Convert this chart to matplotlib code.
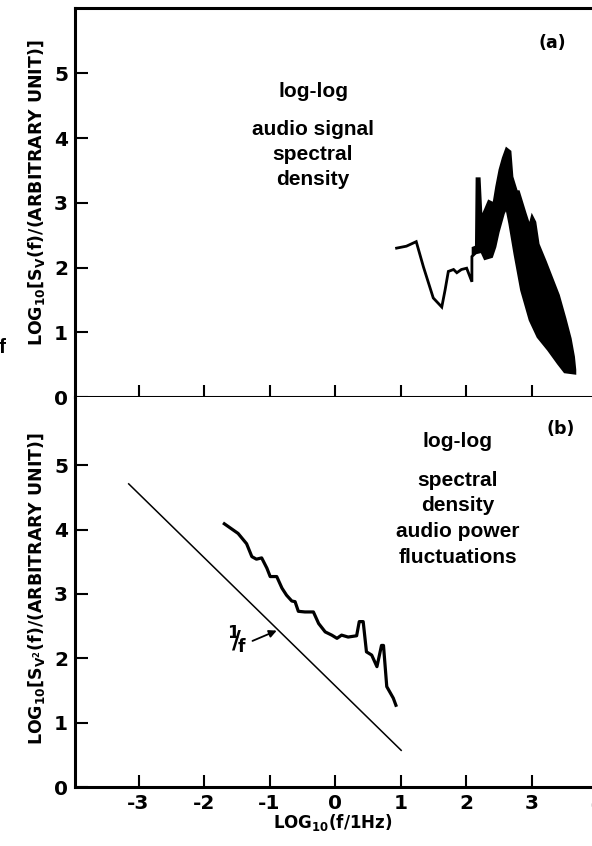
import numpy as np
import matplotlib
matplotlib.use("Agg")
import matplotlib.pyplot as plt

plt.rcParams['font.family'] = 'DejaVu Sans'
plt.rcParams['font.weight'] = 'bold'
plt.rcParams['mathtext.fontset'] = 'dejavusans'
plt.rcParams['mathtext.default'] = 'bf'

# panel (a): audio signal spectral density, thin part
a_x = [0.94, 1.09, 1.24, 1.35, 1.50, 1.63, 1.68, 1.73, 1.81, 1.86, 1.93, 2.01, 2.09, 2.09, 2.14]
a_y = [2.30, 2.33, 2.40, 2.01, 1.53, 1.39, 1.65, 1.94, 1.97, 1.92, 1.97, 1.99, 1.78, 2.17, 2.22]
# panel (a): dense oscillating part, upper and lower envelopes
a_up_x = [2.11, 2.16, 2.17, 2.20, 2.23, 2.30, 2.35, 2.39, 2.42, 2.47, 2.52, 2.57, 2.62, 2.67,
          2.70, 2.77, 2.80, 2.90, 2.97, 3.01, 3.05, 3.10, 3.21, 3.31, 3.41, 3.51, 3.59, 3.64, 3.66]
a_up_y = [2.30, 2.32, 3.37, 3.37, 2.74, 2.90, 3.02, 3.00, 2.94, 3.25, 3.51, 3.69, 3.83, 3.79,
          3.40, 3.17, 3.17, 2.84, 2.62, 2.78, 2.70, 2.36, 2.09, 1.83, 1.57, 1.21, 0.90, 0.62, 0.42]
a_lo_x = [2.11, 2.24, 2.29, 2.39, 2.44, 2.49, 2.57, 2.62, 2.67, 2.75, 2.85, 2.98, 3.10, 3.26,
          3.41, 3.51, 3.66]
a_lo_y = [2.22, 2.25, 2.14, 2.17, 2.32, 2.55, 2.84, 2.94, 2.68, 2.20, 1.65, 1.19, 0.93, 0.73,
          0.52, 0.39, 0.37]

# panel (b): spectral density of audio power fluctuations
b_x = [-1.69, -1.48, -1.35, -1.27, -1.20, -1.12, -1.04, -0.99, -0.89, -0.81, -0.74, -0.66,
       -0.61, -0.56, -0.46, -0.33, -0.25, -0.15, -0.05, 0.03, 0.10, 0.20, 0.33, 0.37, 0.43,
       0.48, 0.56, 0.64, 0.71, 0.74, 0.79, 0.89, 0.93]
b_y = [4.09, 3.94, 3.78, 3.58, 3.54, 3.56, 3.40, 3.27, 3.27, 3.09, 2.98, 2.89, 2.88, 2.73,
       2.72, 2.72, 2.54, 2.41, 2.36, 2.31, 2.36, 2.33, 2.35, 2.57, 2.57, 2.10, 2.05, 1.87,
       2.20, 2.20, 1.56, 1.38, 1.27]
# 1/f reference line
ref_x = [-3.15, 1.01]
ref_y = [4.71, 0.57]

xticks = [-3, -2, -1, 0, 1, 2, 3, 4]
yticks = [0, 1, 2, 3, 4, 5]

W, H = 592, 846
fig = plt.figure(figsize=(W / 100, H / 100), dpi=100)

left = 75 / W
right = 597 / W
ax1 = fig.add_axes([left, 1 - 397 / H, right - left, (397 - 8) / H])
ax2 = fig.add_axes([left, 1 - 787 / H, right - left, (787 - 397) / H])

for ax, ytop in ((ax1, 6.01), (ax2, 6.06)):
    ax.set_xlim(-3.97, 4.0)
    ax.set_ylim(0, ytop)
    ax.set_xticks(xticks)
    ax.set_yticks(yticks)
    ax.tick_params(direction='in', length=9, width=1.5, labelsize=14.5, pad=5,
                   top=False, right=False)
    ax.tick_params(axis='x', pad=5)
    ax.spines['right'].set_visible(False)
    for s in ('left', 'bottom', 'top'):
        ax.spines[s].set_linewidth(2.2)
ax2.spines['top'].set_visible(False)
ax1.tick_params(axis='x', labelbottom=False)
ax2.set_xticklabels(['-3', '-2', '-1', '0', '1', '2', '3', '4'])

# panel (a)
ax1.plot(a_x, a_y, color='black', lw=2.0, solid_joinstyle='miter')
poly_x = np.concatenate([a_up_x, a_lo_x[::-1]])
poly_y = np.concatenate([a_up_y, a_lo_y[::-1]])
ax1.fill(poly_x, poly_y, facecolor='black', edgecolor='black', lw=2.2, joinstyle='miter')

# panel (b)
ax2.plot(ref_x, ref_y, color='black', lw=1.1)
ax2.plot(b_x, b_y, color='black', lw=2.3)
ax2.annotate('', xy=(-0.89, 2.43), xytext=(-1.26, 2.27),
             arrowprops=dict(arrowstyle='-|>', color='black', lw=1.3,
                             mutation_scale=11, shrinkA=0, shrinkB=0))


def ftext(px, py, s, **kw):
    fig.text(px / W, 1 - py / H, s, **kw)


ftext(237, 640, r'$^{1}\!\!/_{\!f}$', fontsize=17.5, ha='center', va='center')

lab = dict(family='Liberation Sans', weight='bold', fontsize=15, ha='center', va='baseline')
ftext(313, 97, 'log-log', **lab)
for py, s in zip([135, 160, 185], ['audio signal', 'spectral', 'density']):
    ftext(313, py, s, **lab)
ftext(458, 447, 'log-log', **lab)
for py, s in zip([486, 511, 537, 563], ['spectral', 'density', 'audio power', 'fluctuations']):
    ftext(458, py, s, **lab)

ftext(552, 43, '(a)', fontsize=12.5, ha='center', va='center')
ftext(561, 429, '(b)', fontsize=12.5, ha='center', va='center')

ftext(37, 193, r'LOG$_{10}$[S$_{V}$(f)/(ARBITRARY UNIT)]', fontsize=12.5,
      rotation=90, ha='center', va='center')
ftext(37, 589, r'LOG$_{10}$[S$_{V^2}$(f)/(ARBITRARY UNIT)]', fontsize=12.5,
      rotation=90, ha='center', va='center')
ftext(333, 828, r'LOG$_{10}$(f/1Hz)', fontsize=12, ha='center', va='baseline')

ftext(6, 347, 'f', family='Liberation Sans', weight='bold', fontsize=15,
      ha='right', va='center')

fig.savefig('out.png', dpi=100)
